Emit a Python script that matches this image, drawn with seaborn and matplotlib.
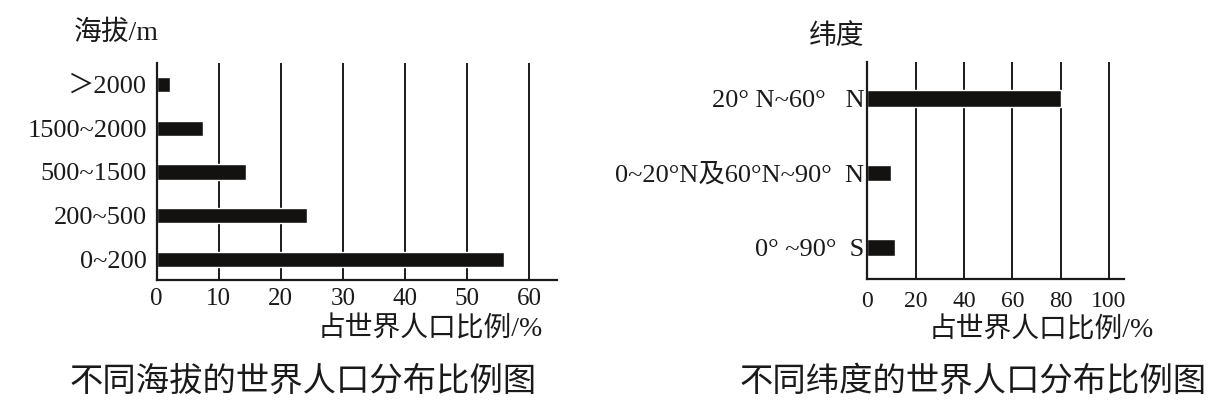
import matplotlib.pyplot as plt
import seaborn as sns

# Data
alt_labels = ['＞2000', '1500~2000', '500~1500', '200~500', '0~200']
alt_values = [2.1, 7.4, 14.4, 24.2, 56.0]

lat_labels = ['20° N~60°   N', '0~20°N及60°N~90°  N', '0° ~90°  S']
lat_values = [80, 10, 11.5]

alt_ticks = [0, 10, 20, 30, 40, 50, 60]
lat_ticks = [0, 20, 40, 60, 80, 100]

sns.set_style('white')
plt.rcParams['font.family'] = ['Liberation Serif', 'Noto Sans CJK SC']
plt.rcParams['axes.unicode_minus'] = False

INK = '#1a1a1a'
BAR = '#141111'


def draw_panel(ax, labels, values, ticks, xmax, ylim, bar_w, xpad, ypad, xsize):
    sns.barplot(x=values, y=labels, orient='h', color=BAR, width=bar_w,
                saturation=1, ax=ax)
    ax.set_xlim(0, xmax)
    ax.set_ylim(*ylim)
    ax.set_xticks(ticks)
    ax.xaxis.grid(True, color=INK, linewidth=1.4)
    ax.set_axisbelow(True)
    ax.set_xlabel('')
    ax.set_ylabel('')
    for side in ['top', 'right']:
        ax.spines[side].set_visible(False)
    for side in ['left', 'bottom']:
        ax.spines[side].set_color(INK)
        ax.spines[side].set_linewidth(1.6)
    ax.tick_params(axis='x', length=0, pad=xpad, labelsize=xsize, labelcolor=INK)
    ax.tick_params(axis='y', length=0, pad=ypad, labelsize=19, labelcolor=INK)


fig = plt.figure(figsize=(12.15, 4.07), dpi=100)
ax1 = fig.add_axes([0.129, 0.312, 0.3295, 0.533])
ax2 = fig.add_axes([0.7138, 0.3145, 0.2113, 0.533])

draw_panel(ax1, alt_labels, alt_values, alt_ticks, 64.5, (4.47, -0.49), 0.35, 6, 7, 18)
draw_panel(ax2, lat_labels, lat_values, lat_ticks, 106.2, (2.42, -0.49), 0.22, 9, 2, 17)

# axis titles and captions
fig.text(116 / 1215, 1 - 33 / 407, '海拔/m', ha='center', va='center', fontsize=20, color=INK)
fig.text(837 / 1215, 1 - 37 / 407, '纬度', ha='center', va='center', fontsize=20, color=INK)

fig.text(430 / 1215, 1 - 329 / 407, '占世界人口比例/%', ha='center', va='center', fontsize=20, color=INK)
fig.text(1041 / 1215, 1 - 330 / 407, '占世界人口比例/%', ha='center', va='center', fontsize=20, color=INK)

fig.text(303 / 1215, 1 - 382 / 407, '不同海拔的世界人口分布比例图', ha='center', va='center', fontsize=24, color=INK)
fig.text(973 / 1215, 1 - 382 / 407, '不同纬度的世界人口分布比例图', ha='center', va='center', fontsize=24, color=INK)

fig.savefig('out.png', dpi=100)
plt.close(fig)
